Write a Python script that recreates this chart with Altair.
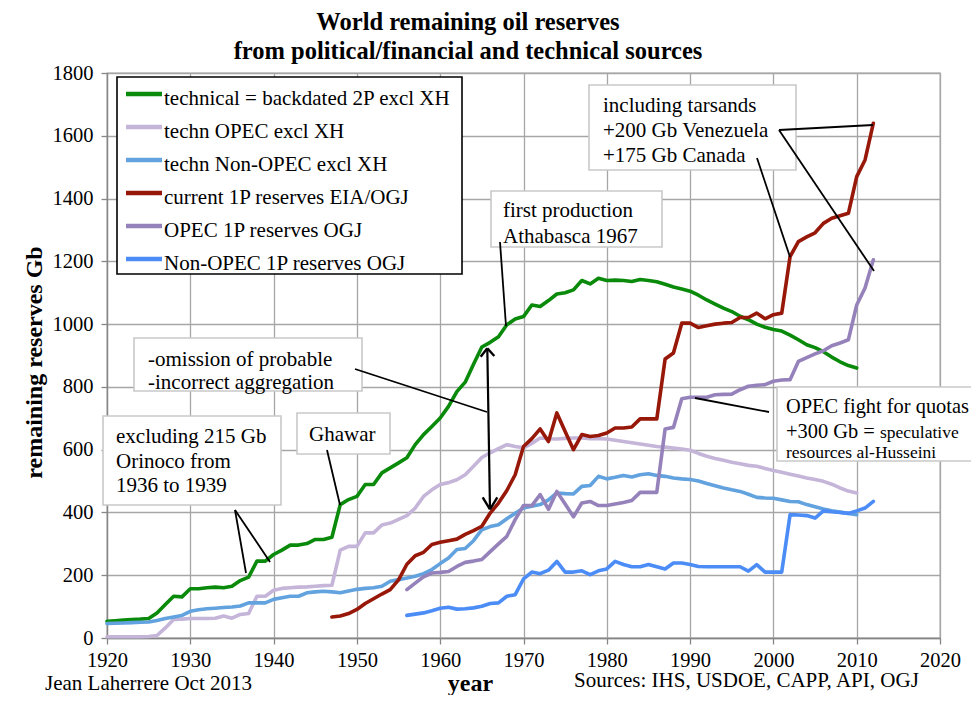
import altair as alt
import pandas as pd

SERIF = "Liberation Serif"

# ---------------- data ----------------
years_tech = list(range(1920, 2011))
technical_2p = [
    53, 55, 57, 59, 60, 62, 80, 107, 133, 131,
    157, 157, 160, 162, 160, 165, 183, 194, 245, 245,
    266, 280, 296, 296, 301, 314, 314, 321, 425, 441,
    451, 489, 489, 526, 542, 558, 574, 616, 648, 674,
    701, 738, 785, 815, 872, 927, 942, 960, 998, 1016,
    1024, 1061, 1056, 1075, 1096, 1100, 1109, 1139, 1128, 1146,
    1139, 1140, 1139, 1136, 1142, 1139, 1135, 1127, 1118, 1112,
    1105, 1092, 1077, 1064, 1051, 1040, 1025, 1014, 1000, 990,
    983, 978, 965, 950, 934, 925, 912, 895, 880, 868, 860,
]
techn_opec = [
    4, 4, 4, 4, 4, 5, 8, 32, 59, 60,
    62, 62, 62, 63, 70, 63, 75, 78, 133, 133,
    152, 158, 160, 162, 163, 165, 167, 168, 280, 292,
    292, 335, 335, 360, 366, 378, 390, 414, 451, 472,
    489, 495, 504, 520, 547, 575, 590, 603, 616, 610,
    606, 620, 637, 635, 634, 636, 637, 637, 635, 635,
    634, 630, 626, 622, 618, 614, 610, 608, 605, 602,
    598, 588, 579, 572, 566, 560, 555, 550, 547, 540,
    534, 528, 522, 516, 510, 505, 499, 490, 478, 468, 462,
]
techn_nonopec = [
    46, 47, 48, 49, 50, 51, 56, 62, 67, 72,
    85, 90, 93, 95, 97, 99, 102, 112, 112, 112,
    123, 128, 133, 133, 144, 147, 149, 147, 144, 150,
    155, 158, 160, 165, 181, 186, 191, 197, 205, 218,
    237, 255, 282, 285, 310, 345, 355, 361, 380, 397,
    414, 420, 425, 440, 462, 460, 459, 483, 486, 515,
    507, 512, 518, 513, 520, 523, 518, 515, 510, 507,
    505, 500, 492, 485, 478, 472, 467, 458, 448, 446,
    445, 440, 435, 434, 425, 418, 411, 405, 401, 397, 393,
]
years_1p = list(range(1947, 2013))
current_1p = [
    67, 70, 78,
    91, 110, 125, 140, 154, 185, 235, 262, 273, 298,
    305, 310, 315, 330, 342, 356, 398, 430, 470, 520,
    610, 635, 666, 626, 717, 658, 600, 648, 642, 645,
    653, 669, 669, 672, 698, 698, 698, 889, 908, 1003,
    1003, 989, 995, 1000, 1003, 1005, 1021, 1021, 1035, 1017,
    1030, 1035, 1215, 1263, 1278, 1291, 1321, 1337, 1345, 1353,
    1470, 1523, 1640,
]
years_ogj = list(range(1956, 2013))
opec_1p = [
    154, 175, 195, 207,
    209, 212, 228, 241, 245, 250, 275, 300, 324, 377,
    422, 422, 457, 410, 467, 427, 386, 430, 435, 422,
    422, 427, 432, 438, 464, 464, 464, 666, 671, 762,
    767, 767, 767, 775, 776, 777, 791, 802, 805, 807,
    818, 822, 823, 881, 893, 905, 915, 931, 940, 950,
    1061, 1115, 1205,
]
nonopec_1p = [
    72, 76, 80, 87,
    95, 98, 92, 93, 96, 101, 110, 112, 133, 138,
    188, 210, 205, 216, 244, 210, 210, 214, 202, 214,
    220, 244, 234, 227, 227, 234, 227, 220, 239, 239,
    234, 228, 227, 227, 227, 227, 227, 213, 234, 210,
    210, 210, 393, 392, 390, 382, 405, 402, 400, 397,
    405, 414, 435,
]

series_names = [
    "technical = backdated 2P excl XH",
    "techn OPEC excl XH",
    "techn Non-OPEC excl XH",
    "\u00a0current 1P reserves EIA/OGJ",
    "OPEC 1P reserves OGJ",
    "Non-OPEC 1P reserves OGJ",
]
series_colors = ["#0a8a0a", "#c4b5d9", "#62a2de", "#971708", "#9682bb", "#4b8cf6"]

x_ticks = list(range(1920, 2021, 10))
y_ticks = list(range(0, 1801, 200))

title_lines = ["World remaining oil reserves",
               "from political/financial and technical sources"]
author_text = "Jean Laherrere Oct 2013"
sources_text = "Sources: IHS, USDOE, CAPP, API, OGJ"

# ---------------- long table for the lines ----------------
rows = []
for name, yrs, vals in zip(
        series_names,
        [years_tech, years_tech, years_tech, years_1p, years_ogj, years_ogj],
        [technical_2p, techn_opec, techn_nonopec, current_1p, opec_1p, nonopec_1p]):
    for yr, v in zip(yrs, vals):
        rows.append({"year": yr, "reserves": v, "series": name})
df = pd.DataFrame(rows)

W, H = 833, 565

lines = alt.Chart(df).mark_line(strokeWidth=3.6, strokeJoin="round", strokeCap="round").encode(
    x=alt.X("year:Q",
            scale=alt.Scale(domain=[1920, 2020], nice=False, zero=False),
            axis=alt.Axis(values=x_ticks, format="d", title="year",
                          labelFlush=False, labelOverlap=False, labelPadding=6,
                          titleFont=SERIF, titleFontSize=24, titleFontWeight="bold",
                          titleX=363, titleY=52, titleBaseline="alphabetic",
                          titleAnchor="start", titleAlign="center")),
    y=alt.Y("reserves:Q",
            scale=alt.Scale(domain=[0, 1800], nice=False),
            axis=alt.Axis(values=y_ticks, format="d", title="remaining reserves Gb",
                          labelOverlap=False, labelPadding=8,
                          titleFont=SERIF, titleFontSize=24, titleFontWeight="bold",
                          titleX=-66, titleY=289, titleAngle=-90,
                          titleBaseline="alphabetic", titleAlign="center")),
    color=alt.Color("series:N", scale=alt.Scale(domain=series_names, range=series_colors),
                    legend=None),
)

one = alt.Data(values=[{}])


def box(x1, y1, x2, y2, stroke="#c9c9c9", width=1.6):
    return alt.Chart(one).mark_rect(fill="white", stroke=stroke, strokeWidth=width).encode(
        x=alt.value(x1), x2=alt.value(x2), y=alt.value(y1), y2=alt.value(y2))


def seg(x1, y1, x2, y2, color="black", width=1.8):
    return alt.Chart(one).mark_rule(color=color, strokeWidth=width).encode(
        x=alt.value(x1), y=alt.value(y1), x2=alt.value(x2), y2=alt.value(y2))


def label(x, y, text, size=21, weight="normal", align="left"):
    return alt.Chart(one).mark_text(text=text, font=SERIF, fontSize=size, fontWeight=weight,
                                     align=align, baseline="alphabetic", color="black").encode(
        x=alt.value(x), y=alt.value(y))


layers = [lines]

# legend
layers.append(box(10, 4, 355, 201, stroke="black", width=1.6))
for i, (name, col) in enumerate(zip(series_names, series_colors)):
    yy = 21 + 33 * i
    layers.append(seg(19, yy, 55, yy, color=col, width=4.5))
    layers.append(label(57, yy + 11, name, size=21))

# title
layers.append(label(361, -43, title_lines[0], size=24.5, weight="bold", align="center"))
layers.append(label(361, -14.5, title_lines[1], size=24.5, weight="bold", align="center"))

# first production Athabasca
layers.append(box(384, 118, 555, 174))
layers.append(label(396, 144, "first production"))
layers.append(label(396, 170, "Athabasca 1967"))
layers.append(seg(393, 169, 399, 253))

# including tarsands
layers.append(box(482, 12, 689, 97))
layers.append(label(496, 38.5, "including tarsands"))
layers.append(label(496, 63.5, "+200 Gb Venezuela"))
layers.append(label(496, 88.5, "+175 Gb Canada"))
layers.append(seg(672, 57, 766, 52))
layers.append(seg(672, 57, 767, 198))
layers.append(seg(650, 85, 683, 184))

# omission of probable
layers.append(box(27, 265, 255, 318))
layers.append(label(41, 292.5, "-omission of probable"))
layers.append(label(41, 316, "-incorrect aggregation"))
layers.append(seg(248, 296, 380, 339))
# double arrow
layers.append(seg(380.3, 275.5, 383, 436, width=2.2))
layers.append(seg(373.7, 283.7, 380.3, 275.3, width=2.4))
layers.append(seg(387.3, 283, 380.3, 275.3, width=2.4))
layers.append(seg(375.7, 424.3, 383, 436.3, width=2.4))
layers.append(seg(390.3, 424.3, 383, 436.3, width=2.4))

# Ghawar
layers.append(box(190, 340, 283, 381))
layers.append(label(202, 367.5, "Ghawar"))
layers.append(seg(220, 377, 233, 432))

# excluding Orinoco
layers.append(box(-4, 343, 174, 432))
layers.append(label(9, 370, "excluding 215 Gb"))
layers.append(label(9, 394.5, "Orinoco from"))
layers.append(label(9, 418.5, "1936 to 1939"))
layers.append(seg(128, 437, 139, 500))
layers.append(seg(128, 437, 163, 489))

# OPEC fight for quotas
layers.append(box(670, 314, 890, 388))
layers.append(label(679, 340, "OPEC fight for quotas", size=20.4))
layers.append(label(679, 365, "+300 Gb =", size=20.4))
layers.append(label(773, 365, "speculative", size=17.5))
layers.append(label(679, 384.5, "resources al-Husseini", size=17.5))
layers.append(seg(588, 325, 662, 339))

# footer texts
layers.append(label(-62, 617, author_text))
layers.append(label(467, 614, sources_text))

chart = alt.layer(*layers).properties(
    width=W, height=H,
    padding={"left": 99, "top": 65, "right": 31, "bottom": 57},
    autosize=alt.AutoSizeParams(type="none"),
    background="white",
).configure_view(
    stroke="#a6a6a6", strokeWidth=1.3
).configure_axis(
    domainColor="#868686", domainWidth=1.3,
    tickColor="#868686", tickWidth=1.3, tickSize=6,
    gridColor="#a6a6a6", gridWidth=1.3,
    labelFont=SERIF, labelFontSize=20.5, labelColor="black",
    titleColor="black",
)

chart.save("out.html", embed_options={"renderer": "svg", "actions": False})
